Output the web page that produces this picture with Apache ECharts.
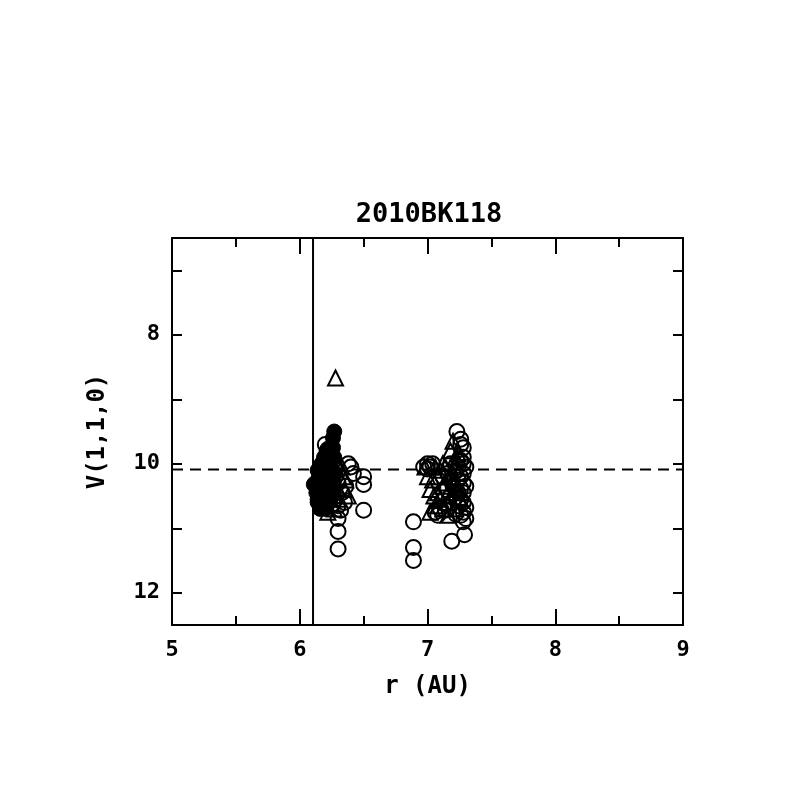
<!DOCTYPE html>
<html><head><meta charset="utf-8">
<script src="https://cdn.jsdelivr.net/npm/echarts@6/dist/echarts.min.js"></script>
<style>html,body{margin:0;padding:0;background:#fff}#c{width:797px;height:797px}</style>
</head><body><div id="c"></div>
<script>
const titleText = "2010BK118";
const xTickLabels = [5, 6, 7, 8, 9];
const yTickLabels = [8, 10, 12];
const yTickValues = [7, 8, 9, 10, 11, 12];

const openCircles = [
  [6.20,9.70],[6.24,9.85],[6.38,10.00],[6.40,10.05],[6.42,10.15],[6.50,10.20],[6.50,10.32],[6.50,10.72],
  [6.30,10.30],[6.33,10.45],[6.28,10.55],[6.30,10.65],[6.30,10.85],[6.30,11.05],[6.30,11.32],[6.26,10.40],
  [6.35,10.60],[6.24,10.20],[6.22,10.50],[6.26,10.62],[6.32,10.72],[6.22,9.78],[6.36,10.35],
  [6.89,10.90],[6.89,11.30],[6.89,11.50],[6.97,10.05],[7.00,10.00],[7.02,10.05],[7.08,10.80],[7.14,10.72],
  [7.19,11.20],[7.29,11.10],[7.23,9.50],[7.26,9.62],[7.28,9.75],[7.28,9.90],[7.28,10.00],[7.28,10.15],
  [7.28,10.30],[7.28,10.45],[7.28,10.60],[7.28,10.75],[7.28,10.90],[7.24,10.05],[7.24,10.25],[7.24,10.45],
  [7.24,10.65],[7.20,10.35],[7.20,10.60],[7.18,10.00],[7.15,10.40],[7.12,10.20],[7.26,9.70],[7.26,9.95],
  [7.26,10.20],[7.26,10.38],[7.26,10.55],[7.26,10.80],[7.22,10.12],[7.22,10.52],[7.22,10.78],[7.18,10.25],
  [7.18,10.50],[7.16,10.15],[7.10,10.70],[7.06,10.75],[7.30,10.05],[7.30,10.35],[7.30,10.68],[7.30,10.85],
  [7.00,10.08],[7.04,10.00]
];
const openTriangles = [
  [6.28,8.67],[6.16,9.95],[6.18,10.10],[6.20,10.20],[6.22,10.00],[6.25,10.30],[6.30,10.00],[6.33,10.05],
  [6.35,10.40],[6.38,10.50],[6.30,10.55],[6.27,10.70],[6.22,10.75],[6.18,10.65],[6.34,10.20],[6.30,10.40],
  [6.36,10.25],[6.26,10.15],[6.20,10.45],
  [6.98,10.05],[7.02,10.40],[7.02,10.75],[7.06,10.05],[7.08,10.20],[7.10,10.55],[7.12,10.00],[7.14,10.30],
  [7.16,10.60],[7.18,9.80],[7.20,9.65],[7.22,9.90],[7.20,10.15],[7.24,10.40],[7.26,10.55],[7.16,10.80],
  [7.22,10.70],[7.06,10.65],[7.04,10.25],[7.08,10.45],[7.10,10.10],[7.12,10.35],[7.14,10.05],[7.16,10.45],
  [7.18,10.20],[7.20,10.45],[7.22,10.30],[7.24,9.85],[7.12,10.70],[7.05,10.50],[7.00,10.20]
];
const filledCircles = [
  [6.12,10.30],[6.13,10.45],[6.14,10.60],[6.15,10.20],[6.17,10.00],[6.18,10.50],[6.19,9.90],[6.20,10.35],
  [6.21,9.80],[6.22,10.10],[6.23,10.60],[6.24,9.75],[6.25,10.25],[6.26,9.60],[6.27,9.50],[6.27,9.90],
  [6.28,10.15],[6.16,10.70],[6.20,10.70],[6.25,10.45],[6.11,10.32],[6.14,10.10],[6.16,10.40],[6.18,10.25],
  [6.20,10.05],[6.22,10.30],[6.24,10.00],[6.26,9.75],[6.24,10.55],[6.18,10.60],[6.14,10.55],[6.22,9.95],
  [6.26,10.20],[6.16,10.15],[6.20,10.55]
];
const verticalLine = [[6.104,6.5],[6.104,12.5]];
const dashedLine = [[5,10.09],[9,10.09]];

const FONT = "DejaVu Sans Mono";
const chart = echarts.init(document.getElementById('c'), null, {renderer:'canvas'});
const lineStyle = {color:'#000', width:2};
const xBase = {
  type:'value', min:5, max:9,
  axisLine:{show:true, onZero:false, lineStyle},
  splitLine:{show:false},
  axisTick:{show:true, inside:true, length:16, lineStyle:{color:'#000', width:2}},
  minorTick:{show:true, splitNumber:2, length:9, lineStyle:{color:'#000', width:2}},
};
const yBase = {
  type:'value', min:6.5, max:12.5, inverse:true,
  axisLine:{show:true, onZero:false, lineStyle},
  splitLine:{show:false},
  axisTick:{show:true, inside:true, length:10, customValues:yTickValues, lineStyle:{color:'#000', width:2}},
};
const markerStyle = {color:'rgba(0,0,0,0)', borderColor:'#000', borderWidth:2, opacity:1};
chart.setOption({
  backgroundColor:'#fff',
  animation:false,
  title:{text:titleText, left:424, textAlign:'center', top:196, textStyle:{fontFamily:FONT, fontSize:27, fontWeight:'bold', color:'#000'}},
  grid:{left:172, right:114, top:238, bottom:172},
  xAxis:[
    Object.assign({}, xBase, {position:'bottom', name:'r (AU)', nameLocation:'middle', nameGap:50,
      nameTextStyle:{fontFamily:FONT, fontSize:24, fontWeight:'bold', color:'#000'},
      axisLabel:{show:true, customValues:xTickLabels, margin:14, fontFamily:FONT, fontSize:22, fontWeight:'bold', color:'#000'}}),
    Object.assign({}, xBase, {position:'top', axisLabel:{show:false}})
  ],
  yAxis:[
    Object.assign({}, yBase, {position:'left', name:'V(1,1,0)', nameLocation:'middle', nameGap:62, nameRotate:90,
      nameTextStyle:{fontFamily:FONT, fontSize:24, fontWeight:'bold', color:'#000'},
      axisLabel:{show:true, customValues:yTickLabels, margin:12, fontFamily:FONT, fontSize:22, fontWeight:'bold', color:'#000'}}),
    Object.assign({}, yBase, {position:'right', axisLabel:{show:false}})
  ],
  series:[
    {type:'line', data:verticalLine, symbol:'none', lineStyle:{color:'#000', width:2}, z:1},
    {type:'line', data:dashedLine, symbol:'none', lineStyle:{color:'#000', width:2, type:[11,7]}, z:1},
    {type:'scatter', data:openCircles, symbol:'circle', symbolSize:15, itemStyle:markerStyle, z:3},
    {type:'scatter', data:openTriangles, symbol:'triangle', symbolSize:15, itemStyle:markerStyle, z:3},
    {type:'scatter', data:filledCircles, symbol:'circle', symbolSize:15,
      itemStyle:{color:'#000', borderColor:'#000', borderWidth:1, opacity:1}, z:4}
  ]
});
</script></body></html>
